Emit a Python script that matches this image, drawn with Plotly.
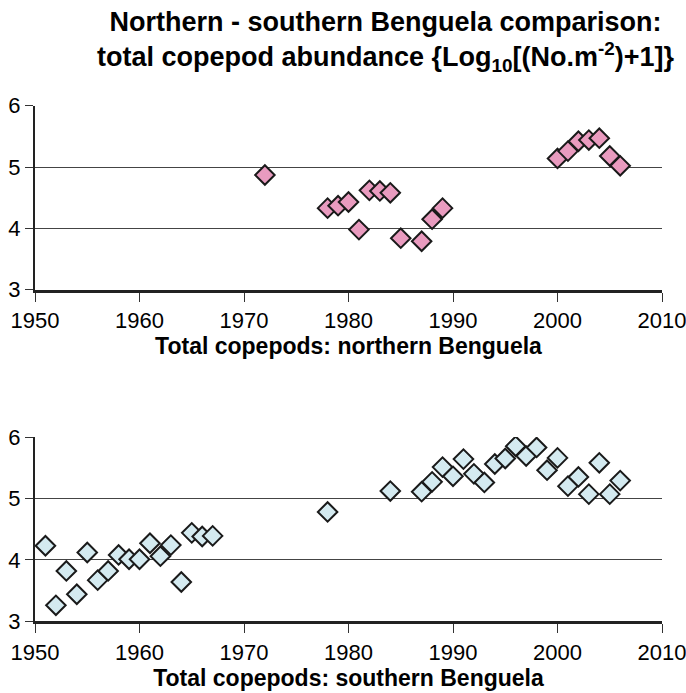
import plotly.graph_objects as go

# Northern Benguela
north_years = [1972, 1978, 1979, 1980, 1981, 1982, 1983, 1984, 1985, 1987, 1988, 1989,
               2000, 2001, 2002, 2003, 2004, 2005, 2006]
north_values = [4.87, 4.33, 4.37, 4.43, 3.98, 4.62, 4.61, 4.58, 3.84, 3.79, 4.15, 4.33,
                5.14, 5.26, 5.42, 5.44, 5.47, 5.18, 5.02]

# Southern Benguela
south_years = [1951, 1952, 1953, 1954, 1955, 1956, 1957, 1958, 1959, 1960, 1961, 1962,
               1963, 1964, 1965, 1966, 1967, 1978, 1984, 1987, 1988, 1989, 1990, 1991,
               1992, 1993, 1994, 1995, 1996, 1997, 1998, 1999, 2000, 2001, 2002, 2003,
               2004, 2005, 2006]
south_values = [4.23, 3.26, 3.82, 3.44, 4.12, 3.67, 3.82, 4.08, 4.01, 4.01, 4.27, 4.06,
                4.24, 3.64, 4.44, 4.38, 4.39, 4.78, 5.12, 5.11, 5.27, 5.51, 5.36, 5.64,
                5.40, 5.26, 5.56, 5.65, 5.85, 5.69, 5.83, 5.46, 5.66, 5.20, 5.35, 5.07,
                5.58, 5.07, 5.29]

x_ticks = [1950, 1960, 1970, 1980, 1990, 2000, 2010]
y_ticks = [3, 4, 5, 6]

title_text = ("Northern - southern Benguela comparison:<br>"
              "total copepod abundance {Log<sub>10</sub>[(No.m<sup>-2</sup>)+1]}")
north_label = "Total copepods: northern Benguela"
south_label = "Total copepods: southern Benguela"

FONT = "Liberation Sans, Arial, sans-serif"

fig = go.Figure()
fig.add_trace(go.Scatter(
    x=north_years, y=north_values, mode="markers", xaxis="x", yaxis="y",
    marker=dict(symbol="diamond", size=15, color="#E99BBF",
                line=dict(color="#1a1a1a", width=2)),
    showlegend=False))
fig.add_trace(go.Scatter(
    x=south_years, y=south_values, mode="markers", xaxis="x2", yaxis="y2",
    marker=dict(symbol="diamond", size=15, color="#D4EAF0",
                line=dict(color="#1a1a1a", width=2)),
    showlegend=False))

xdom = [35 / 686, 662 / 686]
xaxis_common = dict(
    range=[1950, 2010], tickvals=x_ticks, ticks="outside", ticklen=9, tickwidth=1,
    tickcolor="#333", showline=True, linecolor="#222", linewidth=3, showgrid=False,
    zeroline=False, tickfont=dict(family=FONT, size=22, color="#000"), domain=xdom,
    automargin=False, ticklabeloverflow="allow",
)
yaxis_common = dict(
    range=[3, 6], tickvals=y_ticks, ticks="outside", ticklen=8, tickwidth=1,
    tickcolor="#333", showline=True, linecolor="#222", linewidth=2, showgrid=True,
    gridcolor="#444", gridwidth=1, zeroline=False, automargin=False,
    ticklabeloverflow="allow",
    tickfont=dict(family=FONT, size=22, color="#000"),
)

fig.update_layout(
    template="none",
    width=686, height=693,
    margin=dict(l=0, r=0, t=0, b=0, autoexpand=False),
    paper_bgcolor="white", plot_bgcolor="white",
    font=dict(family=FONT, color="#000"),
    xaxis=dict(**xaxis_common, anchor="y",
               title=dict(text="<b>" + north_label + "</b>", standoff=4,
                          font=dict(family=FONT, size=23, color="#000"))),
    yaxis=dict(**yaxis_common, domain=[403.3 / 693, 587.3 / 693], anchor="x"),
    xaxis2=dict(**xaxis_common, anchor="y2",
                title=dict(text="<b>" + south_label + "</b>", standoff=4,
                           font=dict(family=FONT, size=23, color="#000"))),
    yaxis2=dict(**yaxis_common, domain=[71.7 / 693, 256 / 693], anchor="x2"),
    annotations=[dict(
        text="<b>" + title_text + "</b>", xref="paper", yref="paper",
        x=386 / 686, y=1 - 42 / 693, xanchor="center", yanchor="middle",
        showarrow=False, align="center",
        font=dict(family=FONT, size=27, color="#000"))],
)

fig.write_html("out.html",
               config={"displayModeBar": False},
               post_script="document.body.style.margin='0';"
                           "document.body.style.overflow='hidden';")
